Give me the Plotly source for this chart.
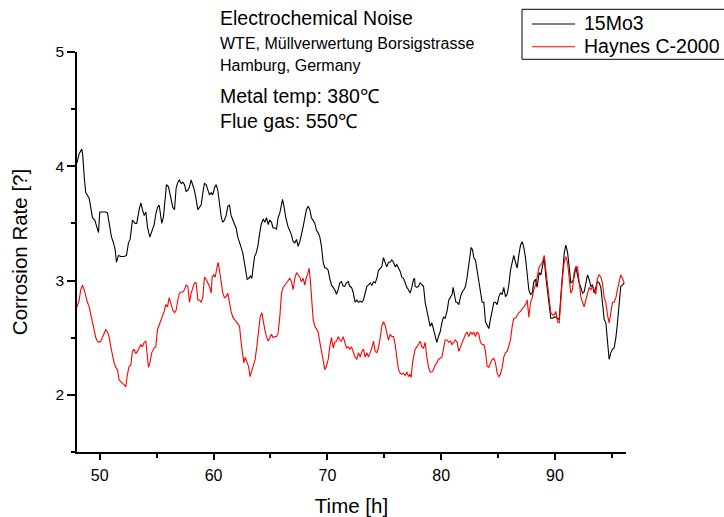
import plotly.graph_objects as go

# ---- data: 15Mo3 (black) ----
t_15mo3 = [
    48.00, 48.19, 48.42, 48.50, 48.66, 48.77, 49.07, 49.21, 49.36, 49.56, 49.71, 49.89,
    50.00, 50.24, 50.53, 50.68, 50.82, 51.03, 51.18, 51.35, 51.47, 51.64, 51.85,
    52.14, 52.35, 52.52, 52.67, 52.87, 53.11, 53.25, 53.46, 53.61, 53.75, 53.90,
    54.05, 54.19, 54.40, 54.57, 54.78, 54.92, 55.07, 55.22, 55.36, 55.45, 55.60,
    55.75, 55.86, 56.04, 56.24, 56.42, 56.57, 56.71, 56.86, 57.00, 57.15, 57.30,
    57.44, 57.59, 57.74, 57.88, 58.03, 58.18, 58.32, 58.47, 58.62, 58.76, 58.91,
    59.06, 59.20, 59.35, 59.49, 59.64, 59.79, 59.93, 60.08, 60.23, 60.37, 60.52,
    60.67, 60.81, 60.96, 61.11, 61.25, 61.40, 61.54, 61.69, 61.84, 61.98, 62.13,
    62.28, 62.42, 62.57, 62.72, 62.86, 62.95, 63.10, 63.24, 63.36, 63.48, 63.60,
    63.74, 63.89, 64.03, 64.18, 64.36, 64.50, 64.65, 64.80, 64.94, 65.09, 65.23,
    65.38, 65.53, 65.67, 65.82, 65.97, 66.06, 66.17, 66.35, 66.55, 66.70, 66.85,
    66.99, 67.14, 67.29, 67.43, 67.58, 67.72, 67.87, 68.02, 68.16, 68.31, 68.46,
    68.60, 68.75, 68.90, 69.04, 69.19, 69.34, 69.48, 69.63, 69.78, 69.92, 70.07,
    70.21, 70.36, 70.51, 70.65, 70.80, 70.95, 71.09, 71.24, 71.39, 71.53, 71.68,
    71.83, 71.97, 72.12, 72.26, 72.44, 72.59, 72.73, 72.88, 73.03, 73.17, 73.32,
    73.47, 73.61, 73.76, 73.91, 74.05, 74.20, 74.35, 74.49, 74.64, 74.78, 74.93,
    75.08, 75.22, 75.37, 75.52, 75.66, 75.81, 75.96, 76.10, 76.25, 76.40, 76.54,
    76.69, 76.84, 76.98, 77.13, 77.27, 77.42, 77.57, 77.66, 77.71, 77.86, 78.01,
    78.15, 78.30, 78.45, 78.59, 78.74, 78.89, 79.03, 79.18, 79.32, 79.47, 79.62,
    79.76, 79.91, 80.06, 80.20, 80.35, 80.53, 80.67, 80.82, 80.96, 81.05, 81.17,
    81.29, 81.40, 81.55, 81.70, 81.84, 81.99, 82.14, 82.28, 82.43, 82.52, 82.63,
    82.75, 82.87, 83.01, 83.16, 83.31, 83.45, 83.60, 83.75, 83.89, 84.04, 84.19,
    84.33, 84.48, 84.63, 84.77, 84.92, 85.07, 85.21, 85.36, 85.50, 85.65, 85.80,
    85.94, 86.09, 86.24, 86.38, 86.53, 86.68, 86.82, 86.97, 87.12, 87.26, 87.41,
    87.56, 87.70, 87.85, 88.00, 88.14, 88.29, 88.43, 88.61, 88.76, 88.90, 89.05,
    89.20, 89.34, 89.49, 89.63, 89.78, 89.93, 90.07, 90.22, 90.37, 90.51, 90.66,
    90.81, 90.95, 91.10, 91.25, 91.39, 91.54, 91.68, 91.83, 91.98, 92.12, 92.27,
    92.42, 92.56, 92.71, 92.86, 93.00, 93.15, 93.30, 93.44, 93.59, 93.73, 93.88,
    94.03, 94.17, 94.32, 94.47, 94.61, 94.76, 94.91, 95.05, 95.20, 95.35, 95.49,
    95.64, 95.78, 95.93, 96.08,
]
rate_15mo3 = [
    4.03, 4.11, 4.15, 4.10, 3.88, 3.77, 3.72, 3.62, 3.55, 3.53, 3.47, 3.42,
    3.60, 3.60, 3.60, 3.59, 3.50, 3.38, 3.34, 3.27, 3.16, 3.22, 3.21,
    3.21, 3.22, 3.33, 3.36, 3.53, 3.50, 3.50, 3.62, 3.68, 3.62, 3.57,
    3.60, 3.47, 3.38, 3.44, 3.49, 3.58, 3.64, 3.66, 3.53, 3.50, 3.56,
    3.72, 3.84, 3.82, 3.73, 3.64, 3.62, 3.81, 3.86, 3.88, 3.85, 3.86,
    3.84, 3.78, 3.79, 3.82, 3.88, 3.84, 3.79, 3.71, 3.62, 3.64, 3.66,
    3.77, 3.85, 3.84, 3.79, 3.75, 3.77, 3.75, 3.81, 3.84, 3.79, 3.68,
    3.56, 3.51, 3.53, 3.57, 3.65, 3.66, 3.57, 3.53, 3.50, 3.46, 3.38,
    3.34, 3.29, 3.24, 3.14, 3.07, 3.01, 3.02, 3.04, 3.02, 3.12, 3.21,
    3.24, 3.30, 3.40, 3.49, 3.54, 3.51, 3.55, 3.49, 3.53, 3.51, 3.46,
    3.46, 3.45, 3.55, 3.59, 3.66, 3.71, 3.66, 3.55, 3.47, 3.44, 3.40,
    3.34, 3.33, 3.36, 3.30, 3.34, 3.42, 3.47, 3.55, 3.62, 3.65, 3.62,
    3.55, 3.53, 3.50, 3.44, 3.42, 3.38, 3.30, 3.16, 3.11, 3.11, 3.09,
    3.02, 2.96, 2.94, 2.92, 2.88, 2.92, 2.98, 2.99, 2.95, 2.95, 2.98,
    2.99, 2.95, 2.94, 2.90, 2.81, 2.83, 2.81, 2.82, 2.81, 2.83, 2.89,
    2.95, 2.96, 2.98, 2.96, 2.99, 2.98, 3.02, 3.09, 3.11, 3.12, 3.20,
    3.16, 3.12, 3.16, 3.16, 3.18, 3.16, 3.12, 3.14, 3.11, 3.08, 3.03,
    3.02, 2.98, 2.94, 2.92, 2.89, 2.94, 3.01, 3.02, 2.95, 2.94, 2.95,
    2.98, 2.96, 2.95, 2.81, 2.73, 2.66, 2.60, 2.63, 2.57, 2.53, 2.46,
    2.51, 2.55, 2.63, 2.68, 2.67, 2.74, 2.83, 2.86, 2.88, 2.94, 2.86,
    2.81, 2.81, 2.79, 2.86, 2.90, 2.92, 2.95, 3.03, 3.14, 3.22, 3.29,
    3.27, 3.20, 3.18, 3.09, 2.99, 2.90, 2.81, 2.81, 2.64, 2.61, 2.58,
    2.66, 2.73, 2.81, 2.81, 2.79, 2.86, 2.89, 2.88, 2.94, 2.86, 2.88,
    2.96, 3.09, 3.16, 3.22, 3.16, 3.11, 3.22, 3.31, 3.34, 3.29, 3.20,
    3.02, 2.92, 2.88, 2.89, 2.99, 3.01, 2.94, 3.07, 3.05, 3.12, 3.20,
    3.03, 2.92, 2.81, 2.67, 2.67, 2.68, 2.68, 2.67, 2.66, 2.86, 3.09,
    3.24, 3.31, 3.25, 3.12, 2.98, 2.99, 3.03, 3.12, 3.03, 2.98, 2.94,
    2.89, 2.90, 2.99, 3.05, 3.01, 2.95, 2.96, 2.89, 2.94, 2.99, 2.98,
    2.94, 2.81, 2.66, 2.63, 2.46, 2.31, 2.37, 2.40, 2.41, 2.50, 2.63,
    2.77, 2.95, 2.96, 2.98,
]

# ---- data: Haynes C-2000 (red) ----
t_c2000 = [
    48.00, 48.19, 48.33, 48.48, 48.63, 48.77, 48.92, 49.07, 49.21, 49.36, 49.51, 49.65,
    49.80, 49.95, 50.09, 50.24, 50.39, 50.53, 50.68, 50.82, 50.97, 51.12, 51.26,
    51.41, 51.56, 51.70, 51.85, 52.00, 52.14, 52.29, 52.43, 52.58, 52.73, 52.87,
    53.02, 53.17, 53.31, 53.46, 53.61, 53.75, 53.90, 54.05, 54.13, 54.28, 54.40,
    54.57, 54.78, 54.92, 55.07, 55.22, 55.36, 55.51, 55.66, 55.80, 55.95, 56.10,
    56.27, 56.42, 56.57, 56.71, 56.86, 57.00, 57.15, 57.30, 57.44, 57.59, 57.74,
    57.88, 58.03, 58.18, 58.32, 58.47, 58.62, 58.76, 58.91, 59.06, 59.20, 59.35,
    59.49, 59.64, 59.79, 59.87, 60.02, 60.14, 60.29, 60.40, 60.52, 60.67, 60.81,
    60.96, 61.11, 61.25, 61.40, 61.54, 61.69, 61.84, 61.98, 62.13, 62.28, 62.42,
    62.57, 62.66, 62.78, 62.92, 63.07, 63.21, 63.36, 63.51, 63.65, 63.80, 63.95,
    64.09, 64.24, 64.36, 64.50, 64.65, 64.80, 64.94, 65.09, 65.23, 65.38, 65.53,
    65.67, 65.82, 65.97, 66.11, 66.26, 66.41, 66.55, 66.70, 66.85, 66.99, 67.14,
    67.29, 67.43, 67.58, 67.72, 67.87, 68.02, 68.16, 68.31, 68.40, 68.52, 68.60,
    68.75, 68.90, 69.04, 69.19, 69.34, 69.48, 69.63, 69.78, 69.92, 70.07, 70.21,
    70.36, 70.51, 70.65, 70.80, 70.95, 71.09, 71.24, 71.39, 71.53, 71.68, 71.83,
    71.97, 72.12, 72.26, 72.44, 72.59, 72.73, 72.88, 73.03, 73.17, 73.32, 73.47,
    73.61, 73.76, 73.91, 74.05, 74.20, 74.35, 74.49, 74.64, 74.78, 74.93, 75.08,
    75.22, 75.37, 75.52, 75.66, 75.81, 75.96, 76.10, 76.25, 76.40, 76.54, 76.69,
    76.84, 76.98, 77.13, 77.27, 77.36, 77.48, 77.57, 77.71, 77.86, 78.01, 78.15,
    78.30, 78.45, 78.59, 78.74, 78.89, 79.03, 79.18, 79.32, 79.47, 79.62, 79.76,
    79.91, 80.06, 80.20, 80.35, 80.53, 80.67, 80.82, 80.96, 81.11, 81.26, 81.40,
    81.55, 81.70, 81.84, 81.99, 82.14, 82.28, 82.43, 82.58, 82.72, 82.87, 83.01,
    83.16, 83.31, 83.45, 83.60, 83.75, 83.89, 84.04, 84.19, 84.33, 84.48, 84.63,
    84.77, 84.92, 85.07, 85.21, 85.36, 85.50, 85.65, 85.80, 85.94, 86.09, 86.24,
    86.38, 86.53, 86.68, 86.82, 86.97, 87.12, 87.26, 87.41, 87.56, 87.70, 87.85,
    88.00, 88.14, 88.29, 88.43, 88.61, 88.76, 88.90, 89.05, 89.20, 89.34, 89.49,
    89.63, 89.78, 89.93, 90.07, 90.22, 90.37, 90.51, 90.66, 90.81, 90.95, 91.10,
    91.25, 91.39, 91.54, 91.68, 91.83, 91.98, 92.12, 92.27, 92.42, 92.56, 92.71,
    92.86, 93.00, 93.15, 93.30, 93.44, 93.59, 93.73, 93.88, 94.03, 94.17, 94.32,
    94.47, 94.61, 94.76, 94.91, 95.05, 95.20, 95.35, 95.49, 95.64, 95.78, 95.93,
    96.08,
]
rate_c2000 = [
    2.77, 2.83, 2.92, 2.96, 2.92, 2.86, 2.81, 2.77, 2.70, 2.63, 2.57, 2.50,
    2.47, 2.46, 2.47, 2.51, 2.55, 2.57, 2.55, 2.51, 2.42, 2.33, 2.28,
    2.24, 2.22, 2.13, 2.11, 2.10, 2.09, 2.07, 2.18, 2.25, 2.26, 2.38,
    2.40, 2.36, 2.38, 2.41, 2.44, 2.42, 2.46, 2.47, 2.40, 2.24, 2.28,
    2.37, 2.41, 2.42, 2.57, 2.61, 2.64, 2.68, 2.73, 2.79, 2.77, 2.85,
    2.78, 2.74, 2.72, 2.74, 2.83, 2.89, 2.90, 2.90, 2.92, 2.96, 2.95,
    2.81, 2.89, 2.95, 2.98, 2.98, 2.83, 2.83, 2.81, 2.86, 3.03, 3.01,
    2.98, 2.95, 2.89, 3.03, 3.05, 3.03, 3.11, 3.16, 3.09, 2.98, 2.89,
    2.85, 2.86, 2.89, 2.79, 2.73, 2.68, 2.66, 2.64, 2.63, 2.60, 2.46,
    2.33, 2.28, 2.33, 2.28, 2.25, 2.16, 2.22, 2.28, 2.31, 2.42, 2.54,
    2.68, 2.72, 2.64, 2.57, 2.51, 2.47, 2.50, 2.53, 2.50, 2.51, 2.51,
    2.54, 2.68, 2.89, 2.94, 2.96, 2.98, 2.99, 3.02, 2.99, 2.92, 3.02,
    3.07, 3.05, 3.03, 2.99, 3.02, 2.96, 3.03, 3.07, 3.11, 2.98, 2.83,
    2.66, 2.60, 2.57, 2.55, 2.46, 2.38, 2.28, 2.22, 2.25, 2.31, 2.42,
    2.50, 2.41, 2.46, 2.47, 2.51, 2.48, 2.47, 2.51, 2.46, 2.41, 2.42,
    2.40, 2.42, 2.38, 2.33, 2.31, 2.37, 2.33, 2.38, 2.40, 2.33, 2.37,
    2.33, 2.37, 2.41, 2.47, 2.38, 2.37, 2.41, 2.50, 2.60, 2.64, 2.61,
    2.54, 2.48, 2.53, 2.51, 2.51, 2.44, 2.33, 2.22, 2.19, 2.18, 2.19,
    2.17, 2.20, 2.16, 2.18, 2.15, 2.28, 2.33, 2.40, 2.42, 2.44, 2.47,
    2.42, 2.41, 2.46, 2.33, 2.24, 2.20, 2.20, 2.22, 2.26, 2.28, 2.31,
    2.32, 2.33, 2.40, 2.48, 2.48, 2.46, 2.47, 2.44, 2.46, 2.48, 2.46,
    2.38, 2.42, 2.46, 2.50, 2.53, 2.55, 2.51, 2.55, 2.53, 2.55, 2.51,
    2.55, 2.53, 2.46, 2.44, 2.44, 2.38, 2.25, 2.24, 2.28, 2.31, 2.32,
    2.28, 2.19, 2.16, 2.18, 2.24, 2.33, 2.37, 2.38, 2.44, 2.48, 2.60,
    2.67, 2.67, 2.70, 2.72, 2.73, 2.75, 2.77, 2.79, 2.83, 2.68, 2.81,
    2.85, 2.92, 2.96, 3.03, 3.12, 3.14, 3.16, 3.22, 3.09, 2.95, 2.86,
    2.72, 2.70, 2.70, 2.73, 2.64, 2.63, 2.83, 3.03, 3.16, 3.21, 3.16,
    2.99, 2.89, 2.92, 3.07, 3.12, 3.12, 2.99, 2.86, 2.81, 2.77, 2.83,
    2.89, 2.94, 2.92, 2.95, 2.92, 2.88, 3.02, 3.05, 3.03, 2.98, 2.85,
    2.81, 2.70, 2.63, 2.72, 2.81, 2.81, 2.85, 2.92, 2.99, 3.05, 3.02,
    2.98,
]

series_names = ["15Mo3", "Haynes C-2000"]
series_colors = ["black", "red"]

x_ticks = [50, 60, 70, 80, 90]
y_ticks = [2, 3, 4, 5]

notes = [
    ("Electrochemical Noise", 19.5, 1.0845),
    ("WTE, Müllverwertung Borsigstrasse", 16, 1.022),
    ("Hamburg, Germany", 16, 0.9655),
    ("Metal temp: 380℃", 19.5, 0.889),
    ("Flue gas: 550℃", 19.5, 0.828),
]

FONT = "Arial, 'Liberation Sans', sans-serif"

fig = go.Figure()
for tx, ry, nm, col in [(t_15mo3, rate_15mo3, series_names[0], series_colors[0]),
                        (t_c2000, rate_c2000, series_names[1], series_colors[1])]:
    fig.add_trace(go.Scatter(x=tx, y=ry, mode="lines", name=nm,
                             line=dict(color=col, width=1.1), showlegend=False))

axis_common = dict(
    showline=True, linecolor="black", linewidth=1.5,
    ticks="outside", tickcolor="black", tickwidth=1.5,
    showgrid=False, zeroline=False, mirror=False,
)

fig.update_xaxes(
    range=[48, 96.24], tickvals=x_ticks, ticklen=6, ticklabelstandoff=2,
    tickfont=dict(size=16, family=FONT, color="black"),
    minor=dict(ticks="outside", ticklen=4, tickwidth=1.5, tickcolor="black",
               dtick=5, tick0=0, showgrid=False),
    title=dict(text="Time [h]", font=dict(size=20.5, family=FONT), standoff=19),
    **axis_common,
)
fig.update_yaxes(
    range=[1.5, 5], tickvals=y_ticks, ticklen=8,
    tickfont=dict(size=15.5, family=FONT, color="black"),
    minor=dict(ticks="outside", ticklen=4.5, tickwidth=1.5, tickcolor="black",
               dtick=0.5, tick0=0, showgrid=False),
    title=dict(text="Corrosion Rate [?]", font=dict(size=20.5, family=FONT), standoff=22),
    **axis_common,
)

annotations = []
for txt, sz, yp in notes:
    annotations.append(dict(text=txt, x=0.2568, y=yp, xref="paper", yref="paper",
                            xanchor="left", yanchor="middle", showarrow=False,
                            font=dict(size=sz, family=FONT, color="black")))

# legend box (its right edge runs off the page, as in the original)
shapes = [dict(type="rect", xref="paper", yref="paper",
               x0=0.8106, x1=1.3, y0=0.98175, y1=1.10675,
               line=dict(color="black", width=1), fillcolor="rgba(0,0,0,0)")]
legend_rows = [1.07, 1.01325]
for nm, col, yp in zip(series_names, series_colors, legend_rows):
    shapes.append(dict(type="line", xref="paper", yref="paper",
                       x0=0.8288, x1=0.9071, y0=yp, y1=yp,
                       line=dict(color=col, width=1.1)))
    annotations.append(dict(text=nm, x=0.9199, y=yp + 0.003, xref="paper", yref="paper",
                            xanchor="left", yanchor="middle", showarrow=False,
                            font=dict(size=19.5, family=FONT, color="black")))

fig.update_layout(
    width=724, height=517,
    margin=dict(l=77, r=98, t=52, b=65, autoexpand=False),
    paper_bgcolor="white", plot_bgcolor="white",
    font=dict(family=FONT, color="black"),
    showlegend=False,
    annotations=annotations,
    shapes=shapes,
)

fig.write_html("out.html")
